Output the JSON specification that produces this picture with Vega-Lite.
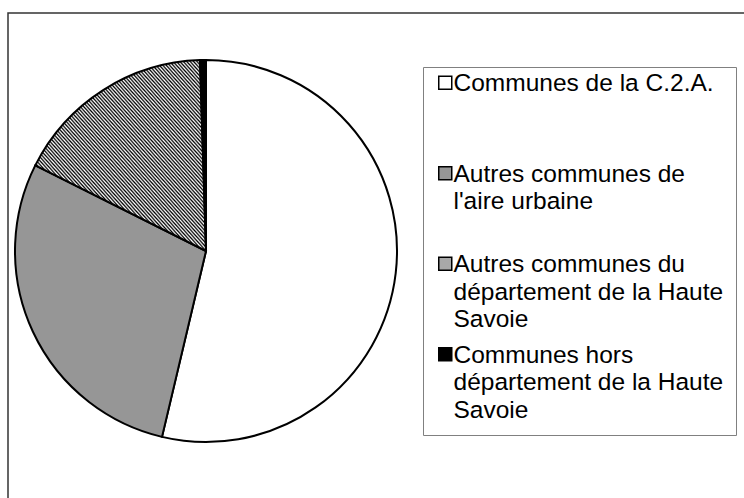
{
  "$schema": "https://vega.github.io/schema/vega-lite/v6.json",
  "width": 738,
  "height": 487,
  "autosize": {"type": "none"},
  "padding": {"left": 8, "top": 13, "right": -2, "bottom": -2},
  "background": "white",
  "view": {"stroke": "#333333", "strokeWidth": 1.5},
  "data": {
    "values": [
      {"cat": "Communes de la C.2.A.", "share": 53.7, "order": 1},
      {"cat": "Autres communes de l'aire urbaine", "share": 28.7, "order": 2},
      {"cat": "Autres communes du département de la Haute Savoie", "share": 17.1, "order": 3},
      {"cat": "Communes hors département de la Haute Savoie", "share": 0.5, "order": 4}
    ]
  },
  "mark": {"type": "arc", "x": 198, "y": 238, "outerRadius": 191, "stroke": "black", "strokeWidth": 2},
  "encoding": {
    "theta": {"field": "share", "type": "quantitative", "stack": true},
    "order": {"field": "order", "type": "quantitative", "sort": "ascending"},
    "fill": {
      "condition": {
        "test": "datum.order == 3",
        "value": {
          "gradient": "linear",
          "x1": 0, "y1": 1, "x2": 1, "y2": 0,
          "stops": [
            {"offset":0,"color":"#000"},{"offset":0.005,"color":"#fff"},{"offset":0.01,"color":"#000"},{"offset":0.015,"color":"#fff"},{"offset":0.02,"color":"#000"},{"offset":0.025,"color":"#fff"},{"offset":0.03,"color":"#000"},{"offset":0.035,"color":"#fff"},{"offset":0.04,"color":"#000"},{"offset":0.045,"color":"#fff"},
            {"offset":0.05,"color":"#000"},{"offset":0.055,"color":"#fff"},{"offset":0.06,"color":"#000"},{"offset":0.065,"color":"#fff"},{"offset":0.07,"color":"#000"},{"offset":0.075,"color":"#fff"},{"offset":0.08,"color":"#000"},{"offset":0.085,"color":"#fff"},{"offset":0.09,"color":"#000"},{"offset":0.095,"color":"#fff"},
            {"offset":0.1,"color":"#000"},{"offset":0.105,"color":"#fff"},{"offset":0.11,"color":"#000"},{"offset":0.115,"color":"#fff"},{"offset":0.12,"color":"#000"},{"offset":0.125,"color":"#fff"},{"offset":0.13,"color":"#000"},{"offset":0.135,"color":"#fff"},{"offset":0.14,"color":"#000"},{"offset":0.145,"color":"#fff"},
            {"offset":0.15,"color":"#000"},{"offset":0.155,"color":"#fff"},{"offset":0.16,"color":"#000"},{"offset":0.165,"color":"#fff"},{"offset":0.17,"color":"#000"},{"offset":0.175,"color":"#fff"},{"offset":0.18,"color":"#000"},{"offset":0.185,"color":"#fff"},{"offset":0.19,"color":"#000"},{"offset":0.195,"color":"#fff"},
            {"offset":0.2,"color":"#000"},{"offset":0.205,"color":"#fff"},{"offset":0.21,"color":"#000"},{"offset":0.215,"color":"#fff"},{"offset":0.22,"color":"#000"},{"offset":0.225,"color":"#fff"},{"offset":0.23,"color":"#000"},{"offset":0.235,"color":"#fff"},{"offset":0.24,"color":"#000"},{"offset":0.245,"color":"#fff"},
            {"offset":0.25,"color":"#000"},{"offset":0.255,"color":"#fff"},{"offset":0.26,"color":"#000"},{"offset":0.265,"color":"#fff"},{"offset":0.27,"color":"#000"},{"offset":0.275,"color":"#fff"},{"offset":0.28,"color":"#000"},{"offset":0.285,"color":"#fff"},{"offset":0.29,"color":"#000"},{"offset":0.295,"color":"#fff"},
            {"offset":0.3,"color":"#000"},{"offset":0.305,"color":"#fff"},{"offset":0.31,"color":"#000"},{"offset":0.315,"color":"#fff"},{"offset":0.32,"color":"#000"},{"offset":0.325,"color":"#fff"},{"offset":0.33,"color":"#000"},{"offset":0.335,"color":"#fff"},{"offset":0.34,"color":"#000"},{"offset":0.345,"color":"#fff"},
            {"offset":0.35,"color":"#000"},{"offset":0.355,"color":"#fff"},{"offset":0.36,"color":"#000"},{"offset":0.365,"color":"#fff"},{"offset":0.37,"color":"#000"},{"offset":0.375,"color":"#fff"},{"offset":0.38,"color":"#000"},{"offset":0.385,"color":"#fff"},{"offset":0.39,"color":"#000"},{"offset":0.395,"color":"#fff"},
            {"offset":0.4,"color":"#000"},{"offset":0.405,"color":"#fff"},{"offset":0.41,"color":"#000"},{"offset":0.415,"color":"#fff"},{"offset":0.42,"color":"#000"},{"offset":0.425,"color":"#fff"},{"offset":0.43,"color":"#000"},{"offset":0.435,"color":"#fff"},{"offset":0.44,"color":"#000"},{"offset":0.445,"color":"#fff"},
            {"offset":0.45,"color":"#000"},{"offset":0.455,"color":"#fff"},{"offset":0.46,"color":"#000"},{"offset":0.465,"color":"#fff"},{"offset":0.47,"color":"#000"},{"offset":0.475,"color":"#fff"},{"offset":0.48,"color":"#000"},{"offset":0.485,"color":"#fff"},{"offset":0.49,"color":"#000"},{"offset":0.495,"color":"#fff"},
            {"offset":0.5,"color":"#000"},{"offset":0.505,"color":"#fff"},{"offset":0.51,"color":"#000"},{"offset":0.515,"color":"#fff"},{"offset":0.52,"color":"#000"},{"offset":0.525,"color":"#fff"},{"offset":0.53,"color":"#000"},{"offset":0.535,"color":"#fff"},{"offset":0.54,"color":"#000"},{"offset":0.545,"color":"#fff"},
            {"offset":0.55,"color":"#000"},{"offset":0.555,"color":"#fff"},{"offset":0.56,"color":"#000"},{"offset":0.565,"color":"#fff"},{"offset":0.57,"color":"#000"},{"offset":0.575,"color":"#fff"},{"offset":0.58,"color":"#000"},{"offset":0.585,"color":"#fff"},{"offset":0.59,"color":"#000"},{"offset":0.595,"color":"#fff"},
            {"offset":0.6,"color":"#000"},{"offset":0.605,"color":"#fff"},{"offset":0.61,"color":"#000"},{"offset":0.615,"color":"#fff"},{"offset":0.62,"color":"#000"},{"offset":0.625,"color":"#fff"},{"offset":0.63,"color":"#000"},{"offset":0.635,"color":"#fff"},{"offset":0.64,"color":"#000"},{"offset":0.645,"color":"#fff"},
            {"offset":0.65,"color":"#000"},{"offset":0.655,"color":"#fff"},{"offset":0.66,"color":"#000"},{"offset":0.665,"color":"#fff"},{"offset":0.67,"color":"#000"},{"offset":0.675,"color":"#fff"},{"offset":0.68,"color":"#000"},{"offset":0.685,"color":"#fff"},{"offset":0.69,"color":"#000"},{"offset":0.695,"color":"#fff"},
            {"offset":0.7,"color":"#000"},{"offset":0.705,"color":"#fff"},{"offset":0.71,"color":"#000"},{"offset":0.715,"color":"#fff"},{"offset":0.72,"color":"#000"},{"offset":0.725,"color":"#fff"},{"offset":0.73,"color":"#000"},{"offset":0.735,"color":"#fff"},{"offset":0.74,"color":"#000"},{"offset":0.745,"color":"#fff"},
            {"offset":0.75,"color":"#000"},{"offset":0.755,"color":"#fff"},{"offset":0.76,"color":"#000"},{"offset":0.765,"color":"#fff"},{"offset":0.77,"color":"#000"},{"offset":0.775,"color":"#fff"},{"offset":0.78,"color":"#000"},{"offset":0.785,"color":"#fff"},{"offset":0.79,"color":"#000"},{"offset":0.795,"color":"#fff"},
            {"offset":0.8,"color":"#000"},{"offset":0.805,"color":"#fff"},{"offset":0.81,"color":"#000"},{"offset":0.815,"color":"#fff"},{"offset":0.82,"color":"#000"},{"offset":0.825,"color":"#fff"},{"offset":0.83,"color":"#000"},{"offset":0.835,"color":"#fff"},{"offset":0.84,"color":"#000"},{"offset":0.845,"color":"#fff"},
            {"offset":0.85,"color":"#000"},{"offset":0.855,"color":"#fff"},{"offset":0.86,"color":"#000"},{"offset":0.865,"color":"#fff"},{"offset":0.87,"color":"#000"},{"offset":0.875,"color":"#fff"},{"offset":0.88,"color":"#000"},{"offset":0.885,"color":"#fff"},{"offset":0.89,"color":"#000"},{"offset":0.895,"color":"#fff"},
            {"offset":0.9,"color":"#000"},{"offset":0.905,"color":"#fff"},{"offset":0.91,"color":"#000"},{"offset":0.915,"color":"#fff"},{"offset":0.92,"color":"#000"},{"offset":0.925,"color":"#fff"},{"offset":0.93,"color":"#000"},{"offset":0.935,"color":"#fff"},{"offset":0.94,"color":"#000"},{"offset":0.945,"color":"#fff"},
            {"offset":0.95,"color":"#000"},{"offset":0.955,"color":"#fff"},{"offset":0.96,"color":"#000"},{"offset":0.965,"color":"#fff"},{"offset":0.97,"color":"#000"},{"offset":0.975,"color":"#fff"},{"offset":0.98,"color":"#000"},{"offset":0.985,"color":"#fff"},{"offset":0.99,"color":"#000"},{"offset":0.995,"color":"#fff"},
            {"offset":1,"color":"#000"}
          ]
        }
      },
      "field": "cat",
      "type": "nominal",
      "scale": {
        "domain": [
          "Communes de la C.2.A.",
          "Autres communes de l'aire urbaine",
          "Autres communes du département de la Haute Savoie",
          "Communes hors département de la Haute Savoie"
        ],
        "range": ["white", "#969696", "#a8a8a8", "black"]
      },
      "legend": {
        "title": null,
        "orient": "none",
        "legendX": 415,
        "legendY": 54,
        "padding": 12,
        "strokeColor": "#808080",
        "fillColor": "white",
        "gridAlign": "all",
        "rowPadding": 10.5,
        "symbolType": "M-1,-2.32H1V-0.32H-1Z",
        "symbolSize": 169,
        "symbolStrokeColor": "black",
        "symbolStrokeWidth": 1.5,
        "symbolOffset": -2,
        "labelOffset": -4,
        "labelFont": "Liberation Sans",
        "labelFontSize": 24.5,
        "labelLimit": 0,
        "labelColor": "black",
        "labelBaseline": "alphabetic",
        "labelExpr": "datum.value == \"Autres communes de l'aire urbaine\" ? ['Autres communes de', \"l'aire urbaine\"] : datum.value == 'Autres communes du département de la Haute Savoie' ? ['Autres communes du', 'département de la Haute', 'Savoie'] : datum.value == 'Communes hors département de la Haute Savoie' ? ['Communes hors', 'département de la Haute', 'Savoie'] : datum.label"
      }
    }
  },
  "config": {
    "style": {"guide-label": {"lineHeight": 27.5}},
    "font": "Liberation Sans"
  }
}
